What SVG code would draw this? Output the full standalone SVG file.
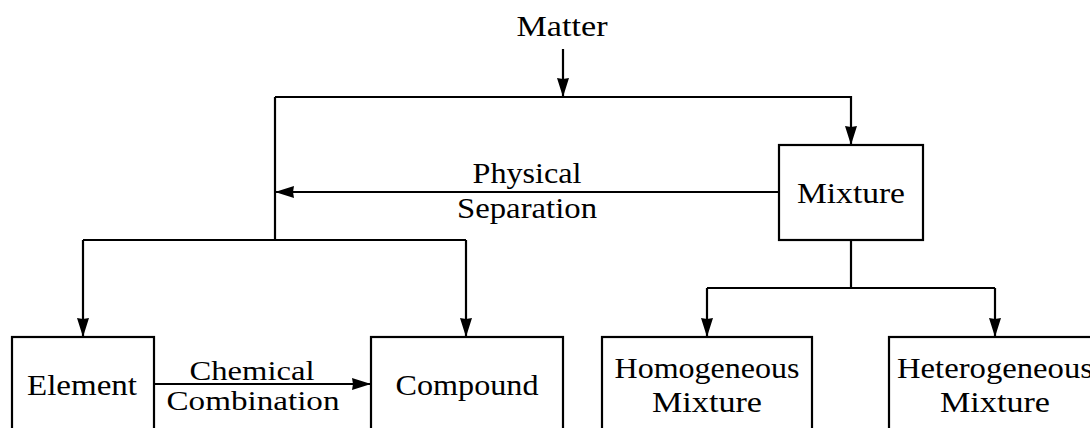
<svg xmlns="http://www.w3.org/2000/svg" width="1090" height="428" viewBox="0 0 1090 428">
<style>
.box{fill:#fff;stroke:#000;stroke-width:2.2}
.t{font-family:"Liberation Serif","DejaVu Serif",serif;font-size:30px;fill:#000;text-anchor:middle}
.s{font-size:27px}
.c{fill:none;stroke:#000;stroke-width:2.2}
</style>
<defs>
<marker id="ah" markerUnits="userSpaceOnUse" markerWidth="20" markerHeight="14" refX="19" refY="6" orient="auto">
<path d="M0,0 L19,6 L0,12 L1,6 z" fill="#000"/>
</marker>
</defs>
<g id="connectors">
<path class="c" d="M563,49 L563,97" marker-end="url(#ah)"/>
<path class="c" d="M275,97 L851,97 L851,145" marker-end="url(#ah)"/>
<path class="c" d="M779,192 L275,192" marker-end="url(#ah)"/>
<path class="c" d="M275,97 L275,240"/>
<path class="c" d="M83,240 L466,240"/>
<path class="c" d="M83,240 L83,337" marker-end="url(#ah)"/>
<path class="c" d="M466,240 L466,337" marker-end="url(#ah)"/>
<path class="c" d="M154,384 L371,384" marker-end="url(#ah)"/>
<path class="c" d="M851,240 L851,288"/>
<path class="c" d="M707,288 L995,288"/>
<path class="c" d="M707,288 L707,337" marker-end="url(#ah)"/>
<path class="c" d="M995,288 L995,337" marker-end="url(#ah)"/>
<text class="t" x="527" y="183" textLength="109" lengthAdjust="spacingAndGlyphs">Physical</text>
<text class="t" x="527" y="218" textLength="140" lengthAdjust="spacingAndGlyphs">Separation</text>
<text class="t s" x="252" y="380" textLength="125" lengthAdjust="spacingAndGlyphs">Chemical</text>
<text class="t s" x="253" y="410" textLength="173" lengthAdjust="spacingAndGlyphs">Combination</text>
</g>
<g id="matter">
<text class="t" x="562" y="36" textLength="91" lengthAdjust="spacingAndGlyphs">Matter</text>
</g>
<g id="mixture">
<rect class="box" x="779" y="145" width="144" height="95"/>
<text class="t" x="851" y="203" textLength="108" lengthAdjust="spacingAndGlyphs">Mixture</text>
</g>
<g id="element">
<rect class="box" x="12" y="337" width="142" height="110"/>
<text class="t" x="82" y="395" textLength="110" lengthAdjust="spacingAndGlyphs">Element</text>
</g>
<g id="compound">
<rect class="box" x="371" y="337" width="192" height="110"/>
<text class="t" x="467" y="395" textLength="143" lengthAdjust="spacingAndGlyphs">Compound</text>
</g>
<g id="homogeneous">
<rect class="box" x="602" y="337" width="210" height="110"/>
<text class="t" x="707" y="378" textLength="185" lengthAdjust="spacingAndGlyphs">Homogeneous</text>
<text class="t" x="707" y="412" textLength="110" lengthAdjust="spacingAndGlyphs">Mixture</text>
</g>
<g id="heterogeneous">
<rect class="box" x="889" y="337" width="212" height="110"/>
<text class="t" x="995" y="378" textLength="196" lengthAdjust="spacingAndGlyphs">Heterogeneous</text>
<text class="t" x="995" y="412" textLength="110" lengthAdjust="spacingAndGlyphs">Mixture</text>
</g>
</svg>
